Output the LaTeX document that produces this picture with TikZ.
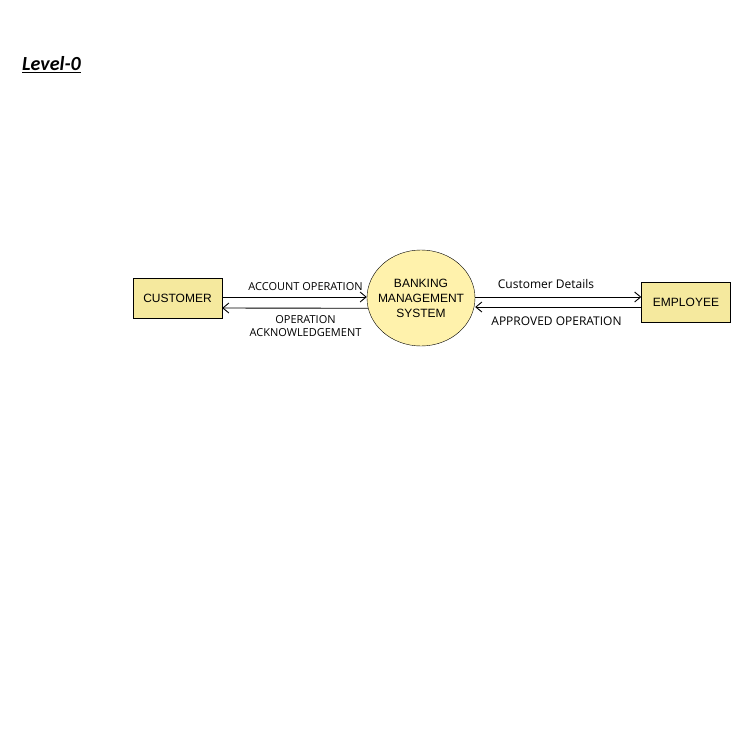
\documentclass[tikz,border=0pt]{standalone}
\usepackage{fontspec}
\setmainfont{Liberation Sans}
\newfontfamily\lblfont{Open Sans}
\newfontfamily\ttlfont{Carlito}
\usetikzlibrary{arrows.meta,shapes.geometric}
\definecolor{rafill}{RGB}{245,233,158}
\definecolor{ccfill}{RGB}{255,242,172}
\tikzset{
    RA/.style ={rectangle,minimum width = 89pt, minimum height = 40pt, draw, fill=rafill, font=\fontsize{12}{15}\selectfont},
    CC/.style ={ellipse,minimum width = 108pt, minimum height = 96pt, draw, fill=ccfill, align=center, font=\fontsize{12}{15}\selectfont, inner xsep=-6pt, inner ysep=0pt},
    FL/.style ={-{Straight Barb[length=6pt,width=10pt]}, line width=0.9pt},
    LB/.style ={font=\lblfont\fontsize{11}{13}\selectfont, align=center, inner sep=0pt},
    LR/.style ={font=\lblfont\fontsize{12}{14}\selectfont, inner sep=0pt}
}
\begin{document}
\begin{tikzpicture}[x=1pt,y=-1pt]
    \useasboundingbox (0,0) rectangle (756,755);
    \node[font=\ttlfont\fontsize{20}{22}\selectfont\bfseries\itshape, inner sep=0pt] (ttl) at (51.5,65) {\underline{Level-0}};
    \node[RA] (cust) at (177.5,298) {CUSTOMER};
    \node[CC] (bms) at (421,298) {BANKING\\MANAGEMENT\\SYSTEM};
    \node[RA] (emp) at (686,302.5) {EMPLOYEE};
    \draw[FL] ([yshift=1]cust.east) -- ([yshift=1]bms.west);
    \draw[FL] (bms.191) -- ([yshift=-10]cust.east);
    \draw[FL] (bms.east |- 0,297) -- (emp.west |- 0,297);
    \draw[FL] (emp.west |- 0,307) -- (bms.east |- 0,307);
    \node[LB] (l1) at (305.5,287) {ACCOUNT OPERATION};
    \node[LB] (l2) at (305.5,326.5) {OPERATION\\ACKNOWLEDGEMENT};
    \node[LR] (l3) at (546,284) {Customer Details};
    \node[LR] (l4) at (556.5,321) {APPROVED OPERATION};
\end{tikzpicture}
\end{document}
